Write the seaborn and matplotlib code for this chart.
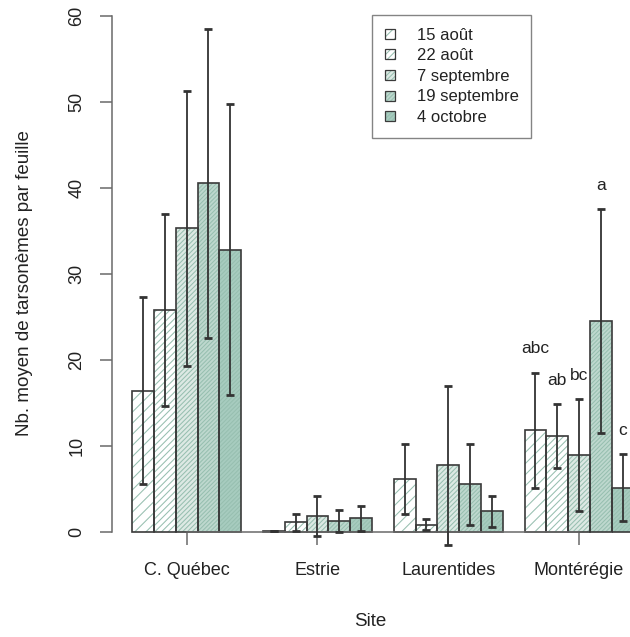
import numpy as np
import pandas as pd
import matplotlib
matplotlib.use("Agg")
import matplotlib.pyplot as plt
import seaborn as sns
from matplotlib.patches import Rectangle, Patch
from matplotlib.legend_handler import HandlerTuple

# ---------------- data ----------------
sites = ["C. Québec", "Estrie", "Laurentides", "Montérégie"]
dates = ["15 août", "22 août", "7 septembre", "19 septembre", "4 octobre"]

mean_15aout = [16.4, 0.05, 6.1, 11.8]
mean_22aout = [25.8, 1.1, 0.8, 11.1]
mean_7sept = [35.3, 1.8, 7.7, 8.9]
mean_19sept = [40.5, 1.25, 5.5, 24.5]
mean_4oct = [32.8, 1.55, 2.4, 5.1]

err_15aout = [10.9, 0.0, 4.1, 6.7]
err_22aout = [11.2, 1.0, 0.65, 3.7]
err_7sept = [16.0, 2.35, 9.2, 6.5]
err_19sept = [18.0, 1.25, 4.7, 13.0]
err_4oct = [16.9, 1.45, 1.8, 3.9]

letters_monteregie = ["abc", "ab", "bc", "a", "c"]

y_ticks = [0, 10, 20, 30, 40, 50, 60]

means = [mean_15aout, mean_22aout, mean_7sept, mean_19sept, mean_4oct]
errs = [err_15aout, err_22aout, err_7sept, err_19sept, err_4oct]

rows = []
for d, m_list, e_list in zip(dates, means, errs):
    for s, m, e in zip(sites, m_list, e_list):
        rows.append({"Site": s, "Date": d, "mean": m, "err": e})
df = pd.DataFrame(rows)

# ---------------- styles ----------------
face_cols = ["#ffffff", "#ffffff", "#dde9e4", "#bed8ce", "#a7ccbf"]
hatches = ["///", "/////", "///////", "////////", "////////"]
hatch_col = "#97bfb0"
edge_col = "#3a3a3a"
axis_col = "#6a6a6a"
text_col = "#222222"

W, H = 630, 637
DPI = 100
sns.set_style("white")
plt.rcParams["font.family"] = ["Liberation Sans", "DejaVu Sans"]
plt.rcParams["hatch.linewidth"] = 0.75

fig = plt.figure(figsize=(W / DPI, H / DPI), dpi=DPI)
# axes placement in pixels (left, top, right, bottom)
L_px, T_px, R_px, B_px = 111.7, -4.9, 653.0, 552.3
ax = fig.add_axes([L_px / W, (H - B_px) / H, (R_px - L_px) / W, (B_px - T_px) / H])

sns.barplot(data=df, x="Site", y="mean", hue="Date", order=sites, hue_order=dates,
            palette=face_cols, width=5 / 6, errorbar=None, legend=False, ax=ax,
            saturation=1)

ax.set_xlim(-0.573, 3.565)
ax.set_ylim(-2.4, 62.4)

# sort patches by x to map to (site, date)
bars = sorted([p for p in ax.patches if isinstance(p, Rectangle)], key=lambda p: p.get_x())
bar_info = []
for i, p in enumerate(bars):
    si, di = divmod(i, len(dates))
    p.set_facecolor(face_cols[di])
    p.set_hatch(hatches[di])
    p.set_edgecolor(hatch_col)
    p.set_linewidth(0)
    outline = Rectangle((p.get_x(), p.get_y()), p.get_width(), p.get_height(),
                        fill=False, edgecolor=edge_col, linewidth=1.2, zorder=p.get_zorder() + 0.1)
    ax.add_patch(outline)
    bar_info.append((p.get_x() + p.get_width() / 2, means[di][si], errs[di][si], si, di))

xs = [b[0] for b in bar_info]
ms = [b[1] for b in bar_info]
es = [b[2] for b in bar_info]
ax.errorbar(xs, ms, yerr=es, fmt="none", ecolor="#333333", elinewidth=1.3,
            capsize=3.0, capthick=2.0, zorder=5)

# letters above Montérégie bars
for (x, m, e, si, di) in bar_info:
    if si == 3:
        ax.text(x, m + e + 2.8, letters_monteregie[di], ha="center", va="center",
                fontsize=12.5, color=text_col)

# axes styling
for sp in ["top", "right"]:
    ax.spines[sp].set_visible(False)
ax.spines["left"].set_bounds(0, 60)
ax.spines["bottom"].set_bounds(0, 3)
ax.spines["bottom"].set_position(("data", 0))
for sp in ["left", "bottom"]:
    ax.spines[sp].set_color(axis_col)
    ax.spines[sp].set_linewidth(1.1)

ax.set_yticks(y_ticks)
ax.set_yticklabels([str(v) for v in y_ticks], rotation=90, va="center")
ax.tick_params(axis="y", direction="out", length=8.8, width=1.1, color=axis_col,
               pad=10, labelsize=13, labelcolor=text_col, left=True)
ax.tick_params(axis="x", direction="out", length=9.6, width=1.1, color=axis_col,
               pad=12, labelsize=13, labelcolor=text_col, bottom=True)

ax.set_xlabel("Site", fontsize=13.5, color=text_col)
ax.set_ylabel("Nb. moyen de tarsonèmes par feuille", fontsize=13.5, color=text_col)
ax.yaxis.set_label_coords((25 - L_px) / (R_px - L_px), (B_px - 283) / (B_px - T_px))
ax.xaxis.set_label_coords((370 - L_px) / (R_px - L_px), (B_px - 622) / (B_px - T_px))
ax.xaxis.label.set_va("center")
ax.yaxis.label.set_va("center")

# legend
handles = []
for fc, h in zip(face_cols, hatches):
    hp = Patch(facecolor=fc, hatch=h, edgecolor=hatch_col, linewidth=0)
    op = Patch(facecolor="none", edgecolor=edge_col, linewidth=0.9)
    handles.append((hp, op))
leg = fig.legend(handles, dates, loc="upper left",
                 bbox_to_anchor=(372 / W, 1 - 15 / H), frameon=True, fancybox=False,
                 edgecolor="#666666", fontsize=12, handlelength=0.6, handleheight=0.55,
                 handletextpad=1.35, labelspacing=0.34, borderpad=0.75, borderaxespad=0,
                 handler_map={tuple: HandlerTuple(ndivide=1, pad=0)})
leg.get_frame().set_linewidth(1.0)
for t in leg.get_texts():
    t.set_color(text_col)

fig.savefig("out.png", dpi=DPI)
